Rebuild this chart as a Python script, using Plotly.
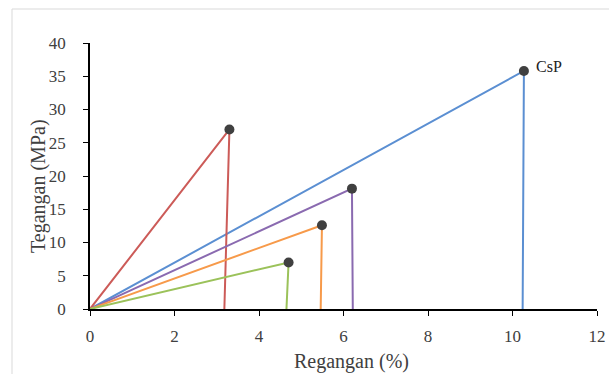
import plotly.graph_objects as go

# Data
series_names = ["CsP", "red", "purple", "orange", "green"]
peak_x = [10.27, 3.30, 6.20, 5.49, 4.70]
peak_y = [35.8, 27.0, 18.1, 12.6, 7.0]
break_x = [10.24, 3.18, 6.22, 5.46, 4.65]
colors = ["#5B8FD2", "#CC5B58", "#8A6AB0", "#F79A4A", "#9BC25A"]
x_ticks = [0, 2, 4, 6, 8, 10, 12]
y_ticks = [0, 5, 10, 15, 20, 25, 30, 35, 40]

W, H = 609, 374
L, R, T, B = 90, 12, 43, 65
pw, ph = W - L - R, H - T - B

fig = go.Figure()
for i in range(len(series_names)):
    fig.add_trace(go.Scatter(
        x=[0, peak_x[i], break_x[i]], y=[0, peak_y[i], 0],
        mode="lines", line=dict(color=colors[i], width=2),
        showlegend=False, hoverinfo="skip", cliponaxis=False))
fig.add_trace(go.Scatter(
    x=peak_x, y=peak_y, mode="markers",
    marker=dict(color="#404040", size=10),
    showlegend=False, cliponaxis=False))

font_family = "Liberation Serif, Times New Roman, serif"
fig.add_annotation(x=peak_x[0] + 0.25, y=peak_y[0] + 0.6, text="CsP",
                   xref="x", yref="y", xanchor="left", yanchor="middle",
                   showarrow=False, font=dict(family=font_family, size=16, color="#222"))

fig.add_annotation(x=(38 - L) / pw, y=(H - B - 186) / ph, xref="paper", yref="paper",
                   xanchor="center", yanchor="middle",
                   text="Tegangan (MPa)", textangle=-90, showarrow=False,
                   font=dict(family=font_family, size=20, color="#404040"))
fig.add_annotation(x=(351 - L) / pw, y=(H - B - 361) / ph, xref="paper", yref="paper",
                   xanchor="center", yanchor="middle",
                   text="Regangan (%)", showarrow=False,
                   font=dict(family=font_family, size=20, color="#404040"))

# light outer frame
fig.add_shape(type="rect", xref="paper", yref="paper",
              x0=(12 - L) / pw, x1=(W + 5 - L) / pw,
              y0=(H - B - (H + 5)) / ph, y1=(H - B - 9) / ph,
              line=dict(color="#D9D9D9", width=1), layer="below")

axis_common = dict(showgrid=False, zeroline=False, showline=True, linecolor="black",
                   linewidth=1.5, ticks="outside", ticklen=5, tickcolor="black",
                   tickfont=dict(family=font_family, size=17, color="#404040"))
fig.update_xaxes(range=[0, 12], tickvals=x_ticks, ticklabelstandoff=6, **axis_common)
fig.update_yaxes(range=[0, 40], tickvals=y_ticks, ticklabelstandoff=14, **axis_common)

fig.update_layout(width=W, height=H,
                  margin=dict(l=L, r=R, t=T, b=B, autoexpand=False),
                  plot_bgcolor="white", paper_bgcolor="white")
fig.write_html("out.html", config={"displayModeBar": False},
               post_script="document.body.style.margin='0';document.body.style.overflow='hidden';")
